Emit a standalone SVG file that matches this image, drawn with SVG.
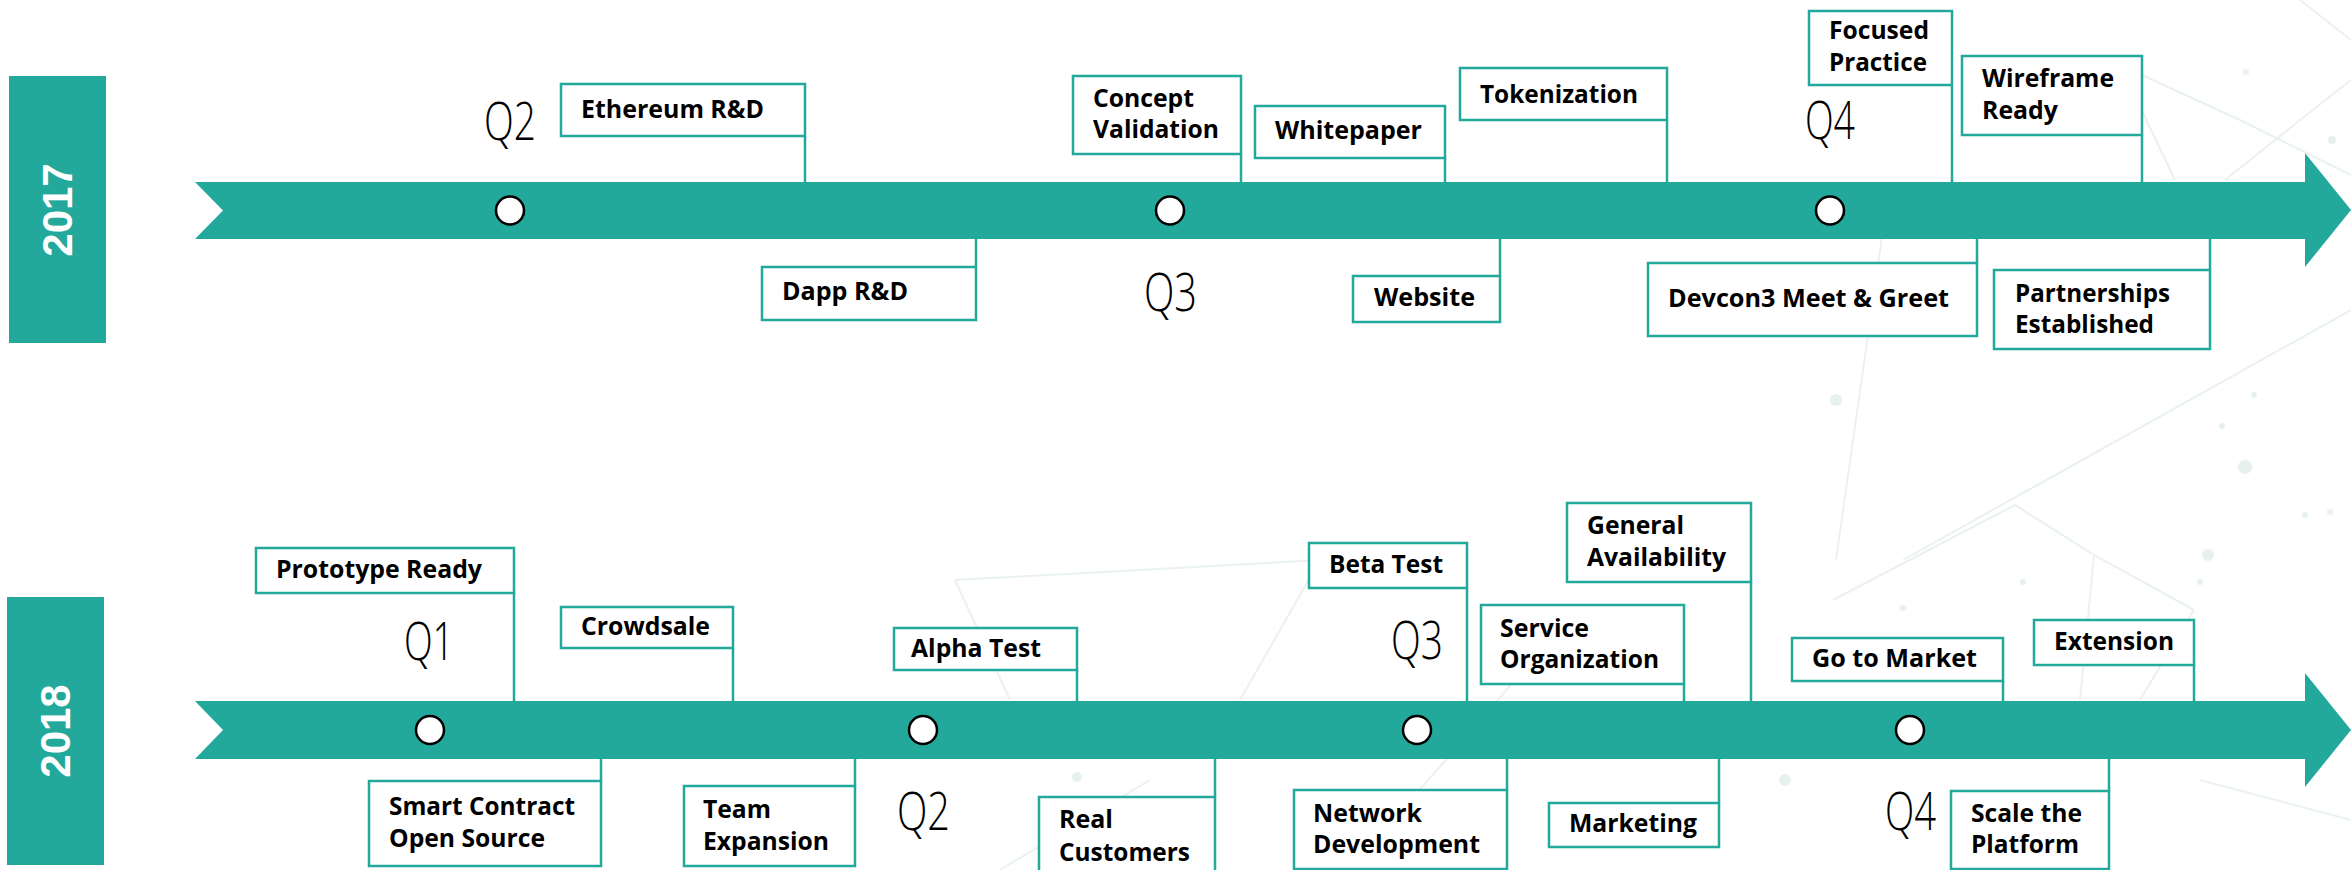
<svg xmlns="http://www.w3.org/2000/svg" width="2351" height="870" viewBox="0 0 2351 870">
<style>
.bg{fill:#ffffff}
.deco line,.deco polyline{stroke:#d6e6e4;stroke-width:2;fill:none}
.deco circle{fill:#cfe4e1}
.year{fill:#23a89c}
.yeartxt{fill:#ffffff;font-family:"Liberation Sans",Arial,sans-serif;font-weight:bold;font-size:42px}
.arrow{fill:#23a89c}
.dot{fill:#ffffff;stroke:#000000;stroke-width:2.5}
.box{fill:#ffffff;stroke:#23a89c;stroke-width:2.5}
.conn line{stroke:#23a89c;stroke-width:2.5}
.lbl{font-family:"Open Sans","Liberation Sans",Arial,sans-serif;font-weight:bold;font-size:25px;fill:#000000}
.q{font-family:"Open Sans","Liberation Sans",Arial,sans-serif;font-weight:300;font-size:53px;fill:#000000}
</style>
<rect class="bg" x="0" y="0" width="2351" height="870"/>
<g id="background" class="deco" opacity="0.5">
  <polyline points="2120,65 2240,120 2351,175"/>
  <line x1="2120" y1="65" x2="2175" y2="180"/>
  <polyline points="2225,180 2300,120 2351,80"/>
  <line x1="1883" y1="230" x2="1836" y2="560"/>
  <line x1="2351" y1="310" x2="1903" y2="560"/>
  <line x1="2300" y1="0" x2="2351" y2="40"/>
  <polyline points="1833,600 2015,505 2094,555 2194,610"/>
  <line x1="2094" y1="555" x2="2080" y2="700"/>
  <line x1="2194" y1="610" x2="2140" y2="700"/>
  <polyline points="955,580 1320,560 1240,700"/>
  <line x1="955" y1="580" x2="1010" y2="700"/>
  <line x1="1550" y1="640" x2="1350" y2="870"/>
  <line x1="1150" y1="780" x2="1000" y2="870"/>
  <line x1="2200" y1="780" x2="2351" y2="820"/>
  <circle cx="2246" cy="72" r="3"/>
  <circle cx="2332" cy="140" r="4"/>
  <circle cx="1836" cy="400" r="6"/>
  <circle cx="2245" cy="467" r="7"/>
  <circle cx="2254" cy="395" r="3"/>
  <circle cx="2222" cy="426" r="3"/>
  <circle cx="2208" cy="555" r="6"/>
  <circle cx="2200" cy="582" r="3"/>
  <circle cx="2023" cy="582" r="3"/>
  <circle cx="1903" cy="608" r="3"/>
  <circle cx="1077" cy="777" r="5"/>
  <circle cx="1077" cy="807" r="5"/>
  <circle cx="1785" cy="780" r="6"/>
  <circle cx="2305" cy="515" r="3"/>
  <circle cx="2330" cy="512" r="3"/>
</g>
<g id="year-2017">
  <rect class="year" x="9" y="76" width="97" height="267"/>
  <text class="yeartxt" transform="translate(72,210) rotate(-90)" text-anchor="middle">2017</text>
</g>
<g id="year-2018">
  <rect class="year" x="7" y="597" width="97" height="268"/>
  <text class="yeartxt" transform="translate(70,731) rotate(-90)" text-anchor="middle">2018</text>
</g>
<g id="timeline-2017">
  <polygon class="arrow" points="195,182 2305,182 2305,153 2351,210 2305,267 2305,239 195,239 223,210.5"/>
</g>
<g id="timeline-2018">
  <polygon class="arrow" points="195,701 2305,701 2305,673 2351,730 2305,787 2305,759 195,759 223,730"/>
</g>
<g id="connectors" class="conn">
  <line x1="805" y1="136" x2="805" y2="182"/>
  <line x1="976" y1="239" x2="976" y2="267"/>
  <line x1="1241" y1="154" x2="1241" y2="182"/>
  <line x1="1445" y1="158" x2="1445" y2="182"/>
  <line x1="1667" y1="120" x2="1667" y2="182"/>
  <line x1="1500" y1="239" x2="1500" y2="276"/>
  <line x1="1977" y1="239" x2="1977" y2="263"/>
  <line x1="1952" y1="85" x2="1952" y2="182"/>
  <line x1="2142" y1="135" x2="2142" y2="182"/>
  <line x1="2210" y1="239" x2="2210" y2="270"/>
  <line x1="514" y1="593" x2="514" y2="701"/>
  <line x1="733" y1="648" x2="733" y2="701"/>
  <line x1="601" y1="759" x2="601" y2="781"/>
  <line x1="855" y1="759" x2="855" y2="786"/>
  <line x1="1077" y1="670" x2="1077" y2="701"/>
  <line x1="1215" y1="759" x2="1215" y2="797"/>
  <line x1="1467" y1="588" x2="1467" y2="701"/>
  <line x1="1684" y1="684" x2="1684" y2="701"/>
  <line x1="1751" y1="582" x2="1751" y2="701"/>
  <line x1="1507" y1="759" x2="1507" y2="790"/>
  <line x1="1719" y1="759" x2="1719" y2="803"/>
  <line x1="2003" y1="681" x2="2003" y2="701"/>
  <line x1="2194" y1="665" x2="2194" y2="701"/>
  <line x1="2109" y1="759" x2="2109" y2="791"/>
</g>
<g id="q-2017-q2"><circle class="dot" cx="510" cy="210.5" r="14"/><text class="q" x="484" y="140" textLength="52" lengthAdjust="spacingAndGlyphs">Q2</text></g>
<g id="q-2017-q3"><circle class="dot" cx="1170" cy="210.5" r="14"/><text class="q" x="1144" y="311" textLength="53" lengthAdjust="spacingAndGlyphs">Q3</text></g>
<g id="q-2017-q4"><circle class="dot" cx="1830" cy="210.5" r="14"/><text class="q" x="1805" y="139" textLength="50" lengthAdjust="spacingAndGlyphs">Q4</text></g>
<g id="q-2018-q1"><circle class="dot" cx="430" cy="730" r="14"/><text class="q" x="404" y="660" textLength="50" lengthAdjust="spacingAndGlyphs">Q1</text></g>
<g id="q-2018-q2"><circle class="dot" cx="923" cy="730" r="14"/><text class="q" x="897" y="830" textLength="53" lengthAdjust="spacingAndGlyphs">Q2</text></g>
<g id="q-2018-q3"><circle class="dot" cx="1417" cy="730" r="14"/><text class="q" x="1391" y="659" textLength="52" lengthAdjust="spacingAndGlyphs">Q3</text></g>
<g id="q-2018-q4"><circle class="dot" cx="1910" cy="730" r="14"/><text class="q" x="1885" y="830" textLength="51" lengthAdjust="spacingAndGlyphs">Q4</text></g>
<g id="ethereum-rd"><rect class="box" x="561" y="84" width="244" height="52"/><text class="lbl" x="581" y="118" textLength="183" lengthAdjust="spacingAndGlyphs">Ethereum R&amp;D</text></g>
<g id="dapp-rd"><rect class="box" x="762" y="267" width="214" height="53"/><text class="lbl" x="782" y="300" textLength="126" lengthAdjust="spacingAndGlyphs">Dapp R&amp;D</text></g>
<g id="concept-validation"><rect class="box" x="1073" y="76" width="168" height="78"/><text class="lbl" x="1093" y="107" textLength="101" lengthAdjust="spacingAndGlyphs">Concept</text><text class="lbl" x="1093" y="138" textLength="126" lengthAdjust="spacingAndGlyphs">Validation</text></g>
<g id="whitepaper"><rect class="box" x="1255" y="106" width="190" height="52"/><text class="lbl" x="1275" y="139" textLength="147" lengthAdjust="spacingAndGlyphs">Whitepaper</text></g>
<g id="tokenization"><rect class="box" x="1460" y="68" width="207" height="52"/><text class="lbl" x="1480" y="103" textLength="158" lengthAdjust="spacingAndGlyphs">Tokenization</text></g>
<g id="website"><rect class="box" x="1353" y="276" width="147" height="46"/><text class="lbl" x="1374" y="306" textLength="101" lengthAdjust="spacingAndGlyphs">Website</text></g>
<g id="devcon3"><rect class="box" x="1648" y="263" width="329" height="73"/><text class="lbl" x="1668" y="307" textLength="281" lengthAdjust="spacingAndGlyphs">Devcon3 Meet &amp; Greet</text></g>
<g id="focused-practice"><rect class="box" x="1809" y="11" width="143" height="74"/><text class="lbl" x="1829" y="39" textLength="100" lengthAdjust="spacingAndGlyphs">Focused</text><text class="lbl" x="1829" y="71" textLength="98" lengthAdjust="spacingAndGlyphs">Practice</text></g>
<g id="wireframe-ready"><rect class="box" x="1962" y="56" width="180" height="79"/><text class="lbl" x="1982" y="87" textLength="132" lengthAdjust="spacingAndGlyphs">Wireframe</text><text class="lbl" x="1982" y="119" textLength="76" lengthAdjust="spacingAndGlyphs">Ready</text></g>
<g id="partnerships"><rect class="box" x="1994" y="270" width="216" height="79"/><text class="lbl" x="2015" y="302" textLength="155" lengthAdjust="spacingAndGlyphs">Partnerships</text><text class="lbl" x="2015" y="333" textLength="139" lengthAdjust="spacingAndGlyphs">Established</text></g>
<g id="prototype-ready"><rect class="box" x="256" y="548" width="258" height="45"/><text class="lbl" x="276" y="578" textLength="206" lengthAdjust="spacingAndGlyphs">Prototype Ready</text></g>
<g id="crowdsale"><rect class="box" x="561" y="607" width="172" height="41"/><text class="lbl" x="581" y="635" textLength="129" lengthAdjust="spacingAndGlyphs">Crowdsale</text></g>
<g id="smart-contract"><rect class="box" x="369" y="781" width="232" height="85"/><text class="lbl" x="389" y="815" textLength="186" lengthAdjust="spacingAndGlyphs">Smart Contract</text><text class="lbl" x="389" y="847" textLength="156" lengthAdjust="spacingAndGlyphs">Open Source</text></g>
<g id="team-expansion"><rect class="box" x="684" y="786" width="171" height="80"/><text class="lbl" x="703" y="818" textLength="68" lengthAdjust="spacingAndGlyphs">Team</text><text class="lbl" x="703" y="850" textLength="126" lengthAdjust="spacingAndGlyphs">Expansion</text></g>
<g id="alpha-test"><rect class="box" x="894" y="628" width="183" height="42"/><text class="lbl" x="911" y="657" textLength="130" lengthAdjust="spacingAndGlyphs">Alpha Test</text></g>
<g id="real-customers"><rect class="box" x="1039" y="797" width="176" height="80"/><text class="lbl" x="1059" y="828" textLength="54" lengthAdjust="spacingAndGlyphs">Real</text><text class="lbl" x="1059" y="861" textLength="131" lengthAdjust="spacingAndGlyphs">Customers</text></g>
<g id="beta-test"><rect class="box" x="1309" y="543" width="158" height="45"/><text class="lbl" x="1329" y="573" textLength="114" lengthAdjust="spacingAndGlyphs">Beta Test</text></g>
<g id="service-organization"><rect class="box" x="1481" y="605" width="203" height="79"/><text class="lbl" x="1500" y="637" textLength="89" lengthAdjust="spacingAndGlyphs">Service</text><text class="lbl" x="1500" y="668" textLength="159" lengthAdjust="spacingAndGlyphs">Organization</text></g>
<g id="general-availability"><rect class="box" x="1567" y="503" width="184" height="79"/><text class="lbl" x="1587" y="534" textLength="97" lengthAdjust="spacingAndGlyphs">General</text><text class="lbl" x="1587" y="566" textLength="139" lengthAdjust="spacingAndGlyphs">Availability</text></g>
<g id="network-development"><rect class="box" x="1294" y="790" width="213" height="79"/><text class="lbl" x="1313" y="822" textLength="109" lengthAdjust="spacingAndGlyphs">Network</text><text class="lbl" x="1313" y="853" textLength="167" lengthAdjust="spacingAndGlyphs">Development</text></g>
<g id="marketing"><rect class="box" x="1549" y="803" width="170" height="44"/><text class="lbl" x="1569" y="832" textLength="128" lengthAdjust="spacingAndGlyphs">Marketing</text></g>
<g id="go-to-market"><rect class="box" x="1792" y="638" width="211" height="43"/><text class="lbl" x="1812" y="667" textLength="165" lengthAdjust="spacingAndGlyphs">Go to Market</text></g>
<g id="extension"><rect class="box" x="2034" y="620" width="160" height="45"/><text class="lbl" x="2054" y="650" textLength="120" lengthAdjust="spacingAndGlyphs">Extension</text></g>
<g id="scale-platform"><rect class="box" x="1951" y="791" width="158" height="78"/><text class="lbl" x="1971" y="822" textLength="111" lengthAdjust="spacingAndGlyphs">Scale the</text><text class="lbl" x="1971" y="853" textLength="108" lengthAdjust="spacingAndGlyphs">Platform</text></g>
</svg>
